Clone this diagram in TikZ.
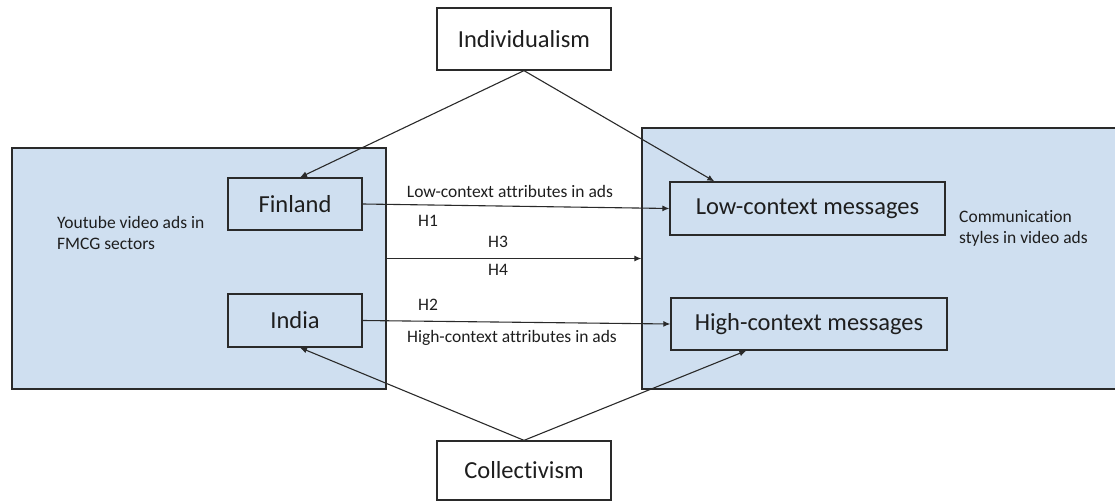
\documentclass[tikz,border=0pt]{standalone}
\usepackage{fontspec}
\setmainfont{Carlito}[Ligatures=NoCommon]
\usetikzlibrary{arrows.meta,calc}
\definecolor{boxfill}{HTML}{CFDFF0}
\definecolor{linec}{HTML}{2A2A2A}
\definecolor{textc}{HTML}{1E1E1E}
\tikzset{
  bigbox/.style={draw=linec, line width=1.3pt, fill=boxfill, inner sep=0pt},
  item/.style={draw=linec, line width=1.3pt, inner sep=0pt, font=\fontsize{24.5}{28}\selectfont, text=textc},
  lbl/.style={inner sep=0pt, font=\fontsize{17.5}{21}\selectfont, text=textc, align=left},
  conn/.style={draw=linec, line width=1.1pt, -{Latex[length=7pt,width=6pt]}}
}
\begin{document}
\begin{tikzpicture}[x=1pt,y=-1pt]
\useasboundingbox (0,0) rectangle (1115,502);
% big boxes
\node[bigbox, minimum width=374pt, minimum height=241pt] (lbox) at (199,268.5) {};
\node[bigbox, minimum width=480pt, minimum height=261pt] (rbox) at (882,258.5) {};
% items
\node[item, fill=white, minimum width=174pt, minimum height=62pt] (ind) at (524,39) {Individualism};
\node[item, fill=white, minimum width=174pt, minimum height=59pt] (col) at (524,470.5) {Collectivism};
\node[item, fill=boxfill, minimum width=134pt, minimum height=52pt] (fin) at (295,204) {Finland};
\node[item, fill=boxfill, minimum width=134pt, minimum height=53pt] (india) at (295,320.5) {India};
\node[item, fill=boxfill, minimum width=275pt, minimum height=53pt] (low) at (807.5,208.5) {Low-context messages};
\node[item, fill=boxfill, minimum width=276pt, minimum height=52pt] (high) at (809,324) {High-context messages};
% side labels
\node[lbl, anchor=west] (ytl) at (57,233) {Youtube video ads in\\FMCG sectors};
\node[lbl, anchor=west] (csl) at (959,228) {Communication\\styles in video ads};
% connectors
\draw[conn] (ind.south) -- ($(fin.north)+(5,0)$);
\draw[conn] (ind.south) -- ($(low.north west)+(45,0)$);
\draw[conn] (col.north) -- ($(india.south)+(5,0)$);
\draw[conn] (col.north) -- ($(high.south west)+(76,0)$);
\draw[conn] (fin.east) -- (low.west);
\draw[conn] (lbox.east |- rbox.west) -- (rbox.west);
\draw[conn] (india.east) -- (high.west);
% arrow labels
\node[lbl] (lca) at (510,191) {Low-context attributes in ads};
\node[lbl] (h1) at (428,221) {H1};
\node[lbl] (h3) at (498,242) {H3};
\node[lbl] (h4) at (498,270) {H4};
\node[lbl] (h2) at (428,305) {H2};
\node[lbl] (hca) at (512,338) {High-context attributes in ads};
\end{tikzpicture}
\end{document}
